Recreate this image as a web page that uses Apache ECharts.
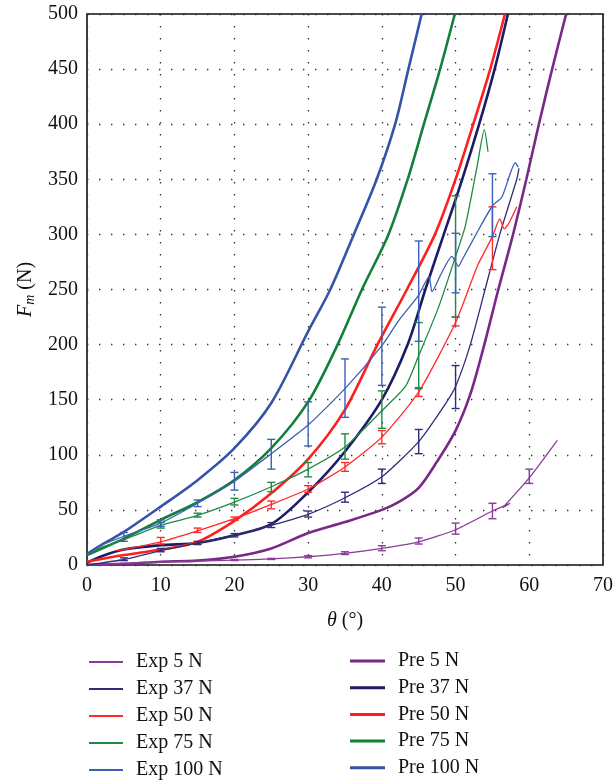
<!DOCTYPE html>
<html>
<head>
<meta charset="utf-8">
<script src="https://cdn.jsdelivr.net/npm/echarts@6.0.0/dist/echarts.min.js"></script>
<style>
  html, body { margin: 0; padding: 0; background: #fff; }
  #chart { width: 616px; height: 782px; }
</style>
</head>
<body>
<div id="chart"></div>
<script>
// angle (deg) / force (N) pairs
const pre5 = [[0,0],[5,1],[10,3],[15,4],[20,7.5],[25,15],[30,29],[35,39],[40,50],[42.5,58],[45,70],[47.5,94],[50,122],[52,155],[53.9,200],[55.8,250],[57.8,300],[59.6,350],[61.3,400],[63.1,450],[65,500]];
const pre37 = [[0,2],[2,8],[5,14],[10,18],[15,20],[20,27],[25,37],[30,66],[35,103],[40,150],[43.5,200],[45.9,250],[48.4,300],[50.9,350],[53.2,400],[55.3,450],[57.1,500]];
const pre50 = [[0,3],[5,9],[10,14],[15,21],[20,40],[25,65],[30,96],[35,141],[39.4,200],[43.4,250],[47.2,300],[50,350],[52.4,400],[54.7,450],[56.7,500]];
const pre75 = [[0,9],[5,24],[10,41],[15,57],[20,77],[25,106],[30,148],[34,200],[37.3,250],[40.9,300],[43.5,350],[45.7,400],[47.9,450],[49.9,500]];
const pre100 = [[0,10],[2.4,20],[5,30],[10,53],[15,77],[20,106],[25,147],[30,212],[33,250],[36.2,300],[39.3,350],[41.8,400],[43.6,450],[45.4,500]];

const exp5 = [[0,0],[5,1.5],[10,2.5],[15,3.5],[20,4.5],[25,5.5],[30,7.5],[35,10.5],[40,15],[45,21],[50,32],[55,49],[57.4,56],[56.4,52],[60,79],[63.8,113]];
const exp37 = [[0,0],[5,5],[10,13],[15,20],[20,27],[25,36],[30,46],[35,61],[40,80],[45,112],[48.4,144],[50,162],[52,200],[54,250],[56,300],[58.3,350],[58.6,360]];
const exp50 = [[4,13],[5,14],[10,21],[15,31],[20,42],[25,55],[30,69],[35,89],[40,116],[45,157],[50,220],[53,272],[55,298],[56,314],[56.6,305],[57.3,311],[58.3,325]];
const exp75 = [[0,9],[2,16],[5,23],[10,36],[15,45],[20,57],[25,71],[30,87],[35,107],[40,140],[43.2,162],[45,190],[47.7,234],[50,280],[51.3,307],[52.9,361],[53.9,395],[54.4,375]];
const exp100 = [[0,9],[2,18],[5,26],[10,38],[15,56],[20,76],[25,101],[30,127],[35,160],[40,199],[42.3,222],[45,245],[46.4,262],[46.8,248],[48.1,265],[49.5,280],[50.4,271],[50.9,277],[53.1,304],[55,326],[56.3,334],[58.1,365],[58.5,361]];

// error bars: [angle, low, high]
const err5 = [[20,4,5],[25,5,6],[30,6.5,8.5],[35,9.5,12],[40,13,17.5],[45,19,24.5],[50,28,38],[55,42,56],[60,74,87]];
const err37 = [[5,4,6.5],[10,12,15],[15,18.5,21.5],[20,25.5,28.5],[25,34,38.5],[30,43.5,49],[35,57,66],[40,74,87],[45,101,123],[50,142,181]];
const err50 = [[10,19,25],[15,29.5,33.5],[20,40.5,43.5],[25,51,58],[30,66,72],[35,85,93],[40,110,122],[45,153,161],[50,217,225],[55,268,325]];
const err75 = [[10,33.5,38.5],[15,43.5,47],[20,54.5,60.5],[25,66.5,75],[30,80,93],[35,96,119],[40,124,158],[45,160,220],[50,225,335]];
const err100 = [[5,21.5,29.5],[10,35,41],[15,53,59],[20,68,84],[25,87,114],[30,108,148],[35,134,187],[40,163,234],[45,203,294],[50,247,301],[55,298,355]];

const xTicks = [0, 70, 10];
const yTicks = [0, 500, 50];

const expNames = ['Exp 5 N', 'Exp 37 N', 'Exp 50 N', 'Exp 75 N', 'Exp 100 N'];
const preNames = ['Pre 5 N', 'Pre 37 N', 'Pre 50 N', 'Pre 75 N', 'Pre 100 N'];

const expColors = ['#8a3c98', '#2e2e78', '#ff2a2a', '#1f8a45', '#3d5fb5'];
const preColors = ['#7a2888', '#1c1c66', '#ff1f1f', '#12803a', '#3553a8'];

const font = 'Liberation Serif';

var chart = echarts.init(document.getElementById('chart'));

function errBar(color) {
  return function (params, api) {
    var x = api.value(0);
    var p1 = api.coord([x, api.value(1)]);
    var p2 = api.coord([x, api.value(2)]);
    var w = 4;
    var st = { stroke: color, lineWidth: 1.4 };
    return {
      type: 'group',
      children: [
        { type: 'line', shape: { x1: p1[0], y1: p1[1], x2: p2[0], y2: p2[1] }, style: st },
        { type: 'line', shape: { x1: p1[0] - w, y1: p1[1], x2: p1[0] + w, y2: p1[1] }, style: st },
        { type: 'line', shape: { x1: p2[0] - w, y1: p2[1], x2: p2[0] + w, y2: p2[1] }, style: st },
      ],
    };
  };
}

var expData = [exp5, exp37, exp50, exp75, exp100];
var preData = [pre5, pre37, pre50, pre75, pre100];
var errData = [err5, err37, err50, err75, err100];

var series = [];
for (var i = 0; i < 5; i++) {
  series.push({
    name: expNames[i],
    type: 'line',
    data: expData[i],
    symbol: 'none',
    smooth: 0.2,
    lineStyle: { color: expColors[i], width: 1.3 },
    itemStyle: { color: expColors[i] },
    z: 3,
  });
  series.push({
    name: 'err' + i,
    type: 'custom',
    data: errData[i],
    renderItem: errBar(expColors[i]),
    z: 4,
  });
}
for (var j = 0; j < 5; j++) {
  series.push({
    name: preNames[j],
    type: 'line',
    data: preData[j],
    symbol: 'none',
    smooth: 0.3,
    lineStyle: { color: preColors[j], width: 2.6 },
    itemStyle: { color: preColors[j] },
    z: 2,
  });
}

var legendText = { fontFamily: font, fontSize: 20, lineHeight: 20, color: '#111', padding: [0, 0, 0, 8] };

var option = {
  animation: false,
  backgroundColor: '#fff',
  textStyle: { fontFamily: font },
  grid: {
    left: 87, right: 11, top: 14, bottom: 217,
    show: true, borderColor: '#111', borderWidth: 1.6,
  },
  xAxis: {
    type: 'value',
    min: xTicks[0], max: xTicks[1], interval: xTicks[2],
    name: '{i|θ} (°)',
    nameLocation: 'middle',
    nameGap: 46,
    nameTextStyle: {
      fontFamily: font, fontSize: 20, color: '#111',
      rich: { i: { fontFamily: font, fontSize: 20, fontStyle: 'italic', color: '#111' } },
    },
    axisLine: { show: false },
    axisTick: { show: false },
    axisLabel: { fontFamily: font, fontSize: 20, color: '#111', margin: 11 },
    splitLine: { show: true, lineStyle: { color: '#333', type: [1.4, 10.6], width: 1.3 } },
  },
  yAxis: {
    type: 'value',
    min: yTicks[0], max: yTicks[1], interval: yTicks[2],
    name: '{i|F}{s|m} (N)',
    nameLocation: 'middle',
    nameGap: 47,
    nameRotate: 90,
    nameTextStyle: {
      fontFamily: font, fontSize: 20, color: '#111',
      rich: {
        i: { fontFamily: font, fontSize: 20, fontStyle: 'italic', color: '#111' },
        s: { fontFamily: font, fontSize: 14, fontStyle: 'italic', color: '#111', verticalAlign: 'bottom', padding: [8, 0, 0, 0] },
      },
    },
    axisLine: { show: false },
    axisTick: { show: false },
    axisLabel: { fontFamily: font, fontSize: 20, color: '#111', margin: 9 },
    splitLine: { show: true, lineStyle: { color: '#333', type: [1.4, 10.6], width: 1.3 } },
  },
  legend: [
    {
      data: expNames,
      orient: 'vertical',
      left: 89, top: 652, height: 130, padding: 0,
      icon: 'rect', itemWidth: 34, itemHeight: 2,
      itemGap: 7,
      textStyle: legendText,
    },
    {
      data: preNames,
      orient: 'vertical',
      left: 350, top: 651, height: 131, padding: 0,
      icon: 'rect', itemWidth: 35, itemHeight: 3,
      itemGap: 6.7,
      textStyle: legendText,
    },
  ],
  series: series,
};

chart.setOption(option);
</script>
</body>
</html>
